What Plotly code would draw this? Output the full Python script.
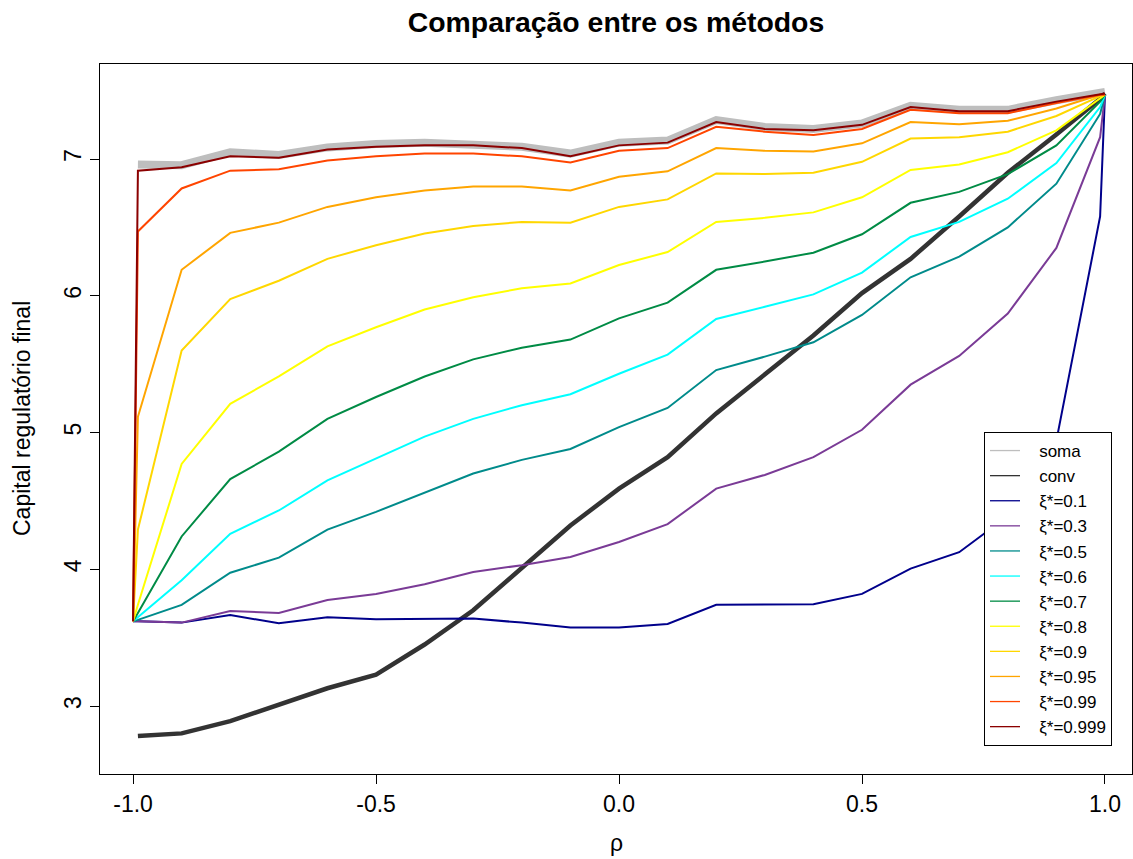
import plotly.graph_objects as go

rho = [-1.0, -0.99, -0.9, -0.8, -0.7, -0.6, -0.5, -0.4, -0.3, -0.2, -0.1, 0.0,
       0.1, 0.2, 0.3, 0.4, 0.5, 0.6, 0.7, 0.8, 0.9, 0.99, 1.0]

soma = [None, 6.96, 6.955, 7.05, 7.03, 7.085, 7.11, 7.12, 7.11, 7.09, 7.04, 7.12,
        7.135, 7.285, 7.235, 7.22, 7.26, 7.39, 7.36, 7.36, 7.43, 7.48, 7.49]
conv = [None, 2.78, 2.80, 2.89, 3.01, 3.13, 3.23, 3.45, 3.70, 4.01, 4.32, 4.59,
        4.82, 5.14, 5.42, 5.71, 6.02, 6.27, 6.58, 6.90, 7.18, 7.44, 7.48]
xi_01 = [3.62, 3.62, 3.61, 3.665, 3.605, 3.65, 3.635, 3.635, 3.64, 3.61, 3.575, 3.575,
         3.60, 3.74, 3.745, 3.745, 3.82, 4.005, 4.125, 4.39, 4.94, 6.58, 7.47]
xi_03 = [3.62, 3.62, 3.61, 3.695, 3.68, 3.775, 3.82, 3.89, 3.98, 4.03, 4.09, 4.20,
         4.33, 4.59, 4.69, 4.82, 5.02, 5.35, 5.56, 5.87, 6.35, 7.16, 7.47]
xi_05 = [3.62, 3.63, 3.74, 3.975, 4.085, 4.29, 4.42, 4.56, 4.70, 4.80, 4.88, 5.04,
         5.18, 5.457, 5.555, 5.66, 5.86, 6.135, 6.286, 6.50, 6.82, 7.33, 7.47]
xi_06 = [3.62, 3.65, 3.92, 4.26, 4.43, 4.65, 4.81, 4.97, 5.10, 5.20, 5.28, 5.43,
         5.57, 5.83, 5.92, 6.01, 6.17, 6.43, 6.54, 6.71, 6.97, 7.38, 7.47]
xi_07 = [3.62, 3.68, 4.24, 4.66, 4.86, 5.10, 5.26, 5.41, 5.535, 5.62, 5.68, 5.835,
         5.95, 6.19, 6.25, 6.315, 6.45, 6.68, 6.76, 6.89, 7.10, 7.42, 7.47]
xi_08 = [3.62, 3.74, 4.77, 5.21, 5.41, 5.63, 5.77, 5.90, 5.99, 6.055, 6.09, 6.225,
         6.32, 6.54, 6.57, 6.61, 6.72, 6.92, 6.96, 7.05, 7.21, 7.44, 7.47]
xi_09 = [3.62, 4.29, 5.60, 5.976, 6.11, 6.27, 6.37, 6.456, 6.51, 6.54, 6.535, 6.65,
         6.705, 6.895, 6.89, 6.90, 6.98, 7.15, 7.16, 7.20, 7.315, 7.46, 7.47]
xi_095 = [3.62, 5.115, 6.19, 6.46, 6.535, 6.65, 6.72, 6.77, 6.80, 6.80, 6.77, 6.87,
          6.91, 7.08, 7.06, 7.055, 7.115, 7.27, 7.255, 7.28, 7.37, 7.47, 7.47]
xi_099 = [3.62, 6.47, 6.785, 6.915, 6.925, 6.99, 7.02, 7.04, 7.04, 7.02, 6.975, 7.06,
          7.08, 7.236, 7.20, 7.175, 7.22, 7.36, 7.335, 7.335, 7.41, 7.47, 7.47]
xi_0999 = [3.62, 6.915, 6.94, 7.02, 7.01, 7.07, 7.09, 7.10, 7.10, 7.08, 7.02, 7.10,
           7.12, 7.27, 7.22, 7.21, 7.25, 7.38, 7.35, 7.35, 7.42, 7.47, 7.48]

names = ["soma", "conv", "ξ*=0.1", "ξ*=0.3", "ξ*=0.5", "ξ*=0.6", "ξ*=0.7",
         "ξ*=0.8", "ξ*=0.9", "ξ*=0.95", "ξ*=0.99", "ξ*=0.999"]
series = [soma, conv, xi_01, xi_03, xi_05, xi_06, xi_07, xi_08, xi_09,
          xi_095, xi_099, xi_0999]
colors = ["#BEBEBE", "#333333", "#00008B", "#7A3B96", "#008B8B", "#00FFFF",
          "#008B45", "#FFFF00", "#FFD700", "#FFA500", "#FF4500", "#8B0000"]
widths = [8, 4.5, 2, 2, 2, 2, 2, 2, 2, 2, 2, 2]

x_ticks = [-1.0, -0.5, 0.0, 0.5, 1.0]
x_ticklabels = ["-1.0", "-0.5", "0.0", "0.5", "1.0"]
y_ticks = [3, 4, 5, 6, 7]

FONT = "Liberation Sans, Arial, Helvetica, sans-serif"
NB = "\u00a0"

fig = go.Figure()
for name, ys, c, w in zip(names, series, colors, widths):
    fig.add_trace(go.Scatter(x=rho, y=ys, mode="lines", name=name,
                             line=dict(color=c, width=w), showlegend=False,
                             connectgaps=False, hoverinfo="skip"))
# legend entries (thin line samples, as in the original legend)
for name, c in zip(names, colors):
    fig.add_trace(go.Scatter(x=[None], y=[None], mode="lines",
                             name=NB * 3 + name,
                             line=dict(color=c, width=1.3), showlegend=True))

fig.update_layout(
    width=1133, height=859,
    margin=dict(l=100, r=1, t=64, b=85),
    paper_bgcolor="white", plot_bgcolor="white",
    font=dict(family=FONT, color="black", size=23),
    title=dict(text="<b>Comparação entre os métodos</b>", x=0.5, xref="paper",
               y=1 - 22 / 859, yref="container", yanchor="middle",
               font=dict(size=28.4, family=FONT, color="black")),
    showlegend=True,
    legend=dict(x=(984 - 100) / 1032, y=(774 - 432) / 710, xanchor="left",
                yanchor="top", bgcolor="white", bordercolor="black",
                borderwidth=1, font=dict(size=17, family=FONT),
                tracegroupgap=0, itemwidth=30),
    xaxis=dict(range=[-1.068, 1.0556], tickvals=x_ticks, ticktext=x_ticklabels,
               showgrid=False, zeroline=False, showline=True, linecolor="black",
               linewidth=1, mirror=True, ticks="outside", ticklen=9,
               tickcolor="black", tickfont=dict(size=23)),
    yaxis=dict(range=[2.503, 7.695], tickvals=y_ticks, showgrid=False,
               zeroline=False, showline=True, linecolor="black", linewidth=1,
               mirror=True, ticks="outside", ticklen=9, tickcolor="black",
               tickangle=-90, tickfont=dict(size=23)),
    annotations=[
        dict(text="ρ", x=0.5, xref="paper", y=(774 - 843) / 710, yref="paper",
             yanchor="middle", showarrow=False, font=dict(size=23)),
        dict(text="Capital regulatório final", x=(22 - 100) / 1032, y=0.5,
             xref="paper", yref="paper", xanchor="center", textangle=-90,
             showarrow=False, font=dict(size=23)),
    ],
)

fig.write_html("out.html",
               config={"displayModeBar": False},
               post_script="document.body.style.margin='0px';"
                           "document.body.style.overflow='hidden';")
